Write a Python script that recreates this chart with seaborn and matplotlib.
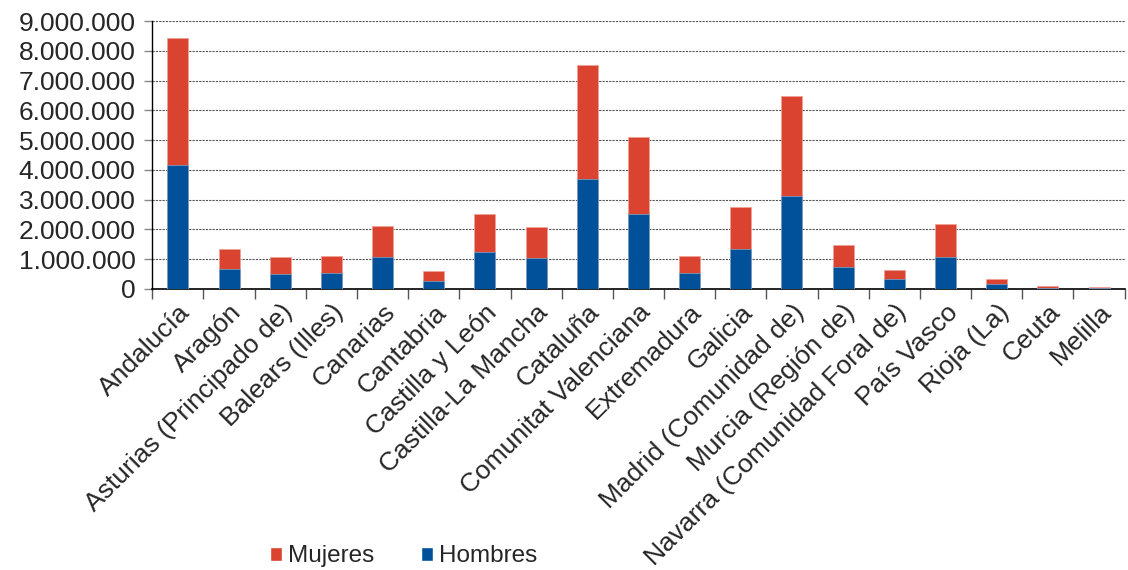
import matplotlib
matplotlib.use('Agg')
from matplotlib import pyplot as plt
from matplotlib.ticker import FuncFormatter, FixedLocator
from matplotlib.patches import Patch
import pandas as pd
import seaborn as sns

# Population by autonomous community
regions = ['Andalucía', 'Aragón', 'Asturias (Principado de)', 'Balears (Illes)', 'Canarias',
           'Cantabria', 'Castilla y León', 'Castilla-La Mancha', 'Cataluña',
           'Comunitat Valenciana', 'Extremadura', 'Galicia', 'Madrid (Comunidad de)',
           'Murcia (Región de)', 'Navarra (Comunidad Foral de)', 'País Vasco',
           'Rioja (La)', 'Ceuta', 'Melilla']
hombres = [4160000, 670000, 520000, 550000, 1060000, 280000, 1240000, 1050000, 3700000,
           2530000, 550000, 1330000, 3110000, 740000, 330000, 1060000, 160000, 42000, 40000]
mujeres = [4260000, 670000, 550000, 560000, 1050000, 310000, 1270000, 1040000, 3840000,
           2570000, 560000, 1420000, 3380000, 740000, 320000, 1130000, 160000, 42000, 40000]

RED = '#D9432F'
BLUE = '#00519A'

df = pd.DataFrame({'region': regions, 'hombres': hombres, 'mujeres': mujeres})
df['total'] = df['hombres'] + df['mujeres']

sns.set_style('white')
plt.rcParams['font.family'] = ['Liberation Sans', 'DejaVu Sans']

fig = plt.figure(figsize=(11.28, 5.70), dpi=100)
ax = fig.add_axes([0.135, 0.493, 0.862, 0.470])

sns.barplot(data=df, x='region', y='total', color=RED, width=0.41, saturation=1,
            edgecolor='#F0A098', linewidth=0.5, ax=ax, zorder=3)
sns.barplot(data=df, x='region', y='hombres', color=BLUE, width=0.41, saturation=1,
            edgecolor='#7FA8CC', linewidth=0.5, ax=ax, zorder=3)

ax.set_ylim(0, 9000000)
ax.set_xlim(-0.5, len(regions) - 0.5)
ax.set_yticks(range(0, 9000001, 1000000))
ax.yaxis.set_major_formatter(FuncFormatter(lambda v, p: f'{int(v):,}'.replace(',', '.')))
ax.grid(axis='y', color='#555555', linestyle=(0, (2, 1)), linewidth=0.8, zorder=0)
ax.set_axisbelow(True)

ax.set_xlabel('')
ax.set_ylabel('')
ax.set_xticks(range(len(regions)))
ax.set_xticklabels(regions, rotation=45, ha='right', rotation_mode='anchor', fontsize=19)
ax.xaxis.set_minor_locator(FixedLocator([i + 0.5 for i in range(-1, len(regions))]))
ax.tick_params(axis='x', which='major', length=0, pad=8)
ax.tick_params(axis='x', which='minor', length=7, width=1, color='#555555', direction='out', bottom=True)
ax.tick_params(axis='y', length=6, width=1, color='#888888', labelsize=19, left=True, pad=6)

for side in ['top', 'right']:
    ax.spines[side].set_visible(False)
ax.spines['left'].set_color('black')
ax.spines['bottom'].set_color('black')
ax.spines['left'].set_linewidth(1)
ax.spines['bottom'].set_linewidth(1.2)

handles = [Patch(facecolor=RED, label='Mujeres'), Patch(facecolor=BLUE, label='Hombres')]
fig.legend(handles=handles, loc='center', bbox_to_anchor=(0.358, 0.024), ncol=2, frameon=False,
           fontsize=17.5, handlelength=0.5, handleheight=0.5, handletextpad=0.25, columnspacing=1.9)

fig.savefig('out.png', dpi=100)
